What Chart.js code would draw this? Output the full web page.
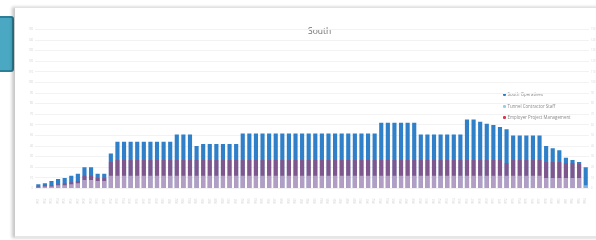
<!DOCTYPE html>
<html>
<head>
<meta charset="utf-8">
<script src="https://cdn.jsdelivr.net/npm/chart.js@4/dist/chart.umd.min.js"></script>
<style>
    html, body { margin: 0; padding: 0; background: #ffffff; }
    body { width: 596px; height: 240px; position: relative; overflow: hidden; font-family: "Open Sans", sans-serif; }
    .tab { position: absolute; left: -4px; top: 16px; width: 14px; height: 52px; background: #4aa8c3; border: 2px solid #2d7f97; border-radius: 3px; }
    .card { position: absolute; left: 15px; top: 7px; width: 590px; height: 228px; background: #fff; border-top: 1px solid #e2e2e2; border-bottom: 2px solid #e6e6e6; box-shadow: -3px 0 3px rgba(0,0,0,0.22); }
    .title { position: absolute; left: 308px; top: 25px; font-size: 8.5px; color: #6d6d6d; filter: blur(0.3px); }
    .legend { position: absolute; left: 503px; top: 89px; font-size: 4.4px; color: #8a8a8a; line-height: 11.5px; filter: blur(0.3px); }
    .legend span.dot { display: inline-block; width: 3px; height: 3px; margin-right: 1.5px; vertical-align: middle; border-radius: 1px; }
    canvas { position: absolute; left: 0; top: 0; filter: blur(0.35px); }
</style>
</head>
<body>
<div class="tab"></div>
<div class="card"></div>
<div class="title">South</div>
<div class="legend" id="legend"></div>
<canvas id="chartSouth" width="596" height="240"></canvas>
<script>
const categories = [
    "W01","W02","W03","W04","W05","W06","W07","W08","W09","W10","W11","W12",
    "W13","W14","W15","W16","W17","W18","W19","W20","W21","W22","W23","W24",
    "W25","W26","W27","W28","W29","W30","W31","W32","W33","W34","W35","W36",
    "W37","W38","W39","W40","W41","W42","W43","W44","W45","W46","W47","W48",
    "W49","W50","W51","W52","W53","W54","W55","W56","W57","W58","W59","W60",
    "W61","W62","W63","W64","W65","W66","W67","W68","W69","W70","W71","W72",
    "W73","W74","W75","W76","W77","W78","W79","W80","W81","W82","W83","W84"
];

const southOperatives = [
    4, 5, 7, 9, 10, 12, 14, 20, 20, 14, 14, 33,
    44, 44, 44, 44, 44, 44, 44, 44, 44, 51, 51, 51,
    40, 42, 42, 42, 42, 42, 42, 52, 52, 52, 52, 52,
    52, 52, 52, 52, 52, 52, 52, 52, 52, 52, 52, 52,
    52, 52, 52, 52, 62, 62, 62, 62, 62, 62, 51, 51,
    51, 51, 51, 51, 51, 65, 65, 63, 61, 60, 58, 56,
    50, 50, 50, 50, 50, 40, 38, 36, 29, 27, 25, 20
];

const tunnelContractorStaff = [
    1, 2, 2, 3, 3, 4, 5, 8, 8, 7, 7, 12,
    12, 12, 12, 12, 12, 12, 12, 12, 12, 12, 12, 12,
    12, 12, 12, 12, 12, 12, 12, 12, 12, 12, 12, 12,
    12, 12, 12, 12, 12, 12, 12, 12, 12, 12, 12, 12,
    12, 12, 12, 12, 12, 12, 12, 12, 12, 12, 12, 12,
    12, 12, 12, 12, 12, 12, 12, 12, 12, 12, 12, 12,
    12, 12, 12, 12, 12, 10, 10, 10, 10, 10, 10, 3
];

const employerProjectManagement = [
    2, 3, 3, 4, 5, 6, 7, 12, 12, 10, 10, 25,
    27, 27, 27, 27, 27, 27, 27, 27, 27, 27, 27, 27,
    27, 27, 27, 27, 27, 27, 27, 27, 27, 27, 27, 27,
    27, 27, 27, 27, 27, 27, 27, 27, 27, 27, 27, 27,
    27, 27, 27, 27, 27, 27, 27, 27, 27, 27, 27, 27,
    27, 27, 27, 27, 27, 27, 27, 27, 27, 27, 27, 24,
    27, 27, 27, 27, 27, 25, 25, 25, 24, 24, 23, 0
];

const yTicks = [0, 10, 20, 30, 40, 50, 60, 70, 80, 90, 100, 110, 120, 130, 140, 150];

const legendColors = ["#2f80c9", "#8fd0f2", "#d9364f"];

const tickFont = { size: 2.6, family: "Open Sans" };

const chart = new Chart(document.getElementById("chartSouth"), {
    type: "bar",
    data: {
        labels: categories,
        datasets: [
            { label: "South Operatives", data: southOperatives, backgroundColor: "#2f80c9", order: 3 },
            { label: "Tunnel Contractor Staff", data: tunnelContractorStaff, backgroundColor: "rgba(230,228,250,0.5)", order: 1 },
            { label: "Employer Project Management", data: employerProjectManagement, backgroundColor: "rgba(205,45,85,0.5)", order: 2 }
        ]
    },
    options: {
        responsive: false,
        animation: false,
        layout: { padding: { top: 29.5, left: 0, right: 0, bottom: 0 } },
        datasets: { bar: { grouped: false, categoryPercentage: 0.9, barPercentage: 0.7 } },
        plugins: { legend: { display: false }, title: { display: false }, tooltip: { enabled: false } },
        scales: {
            x: {
                grid: { display: false },
                border: { display: false },
                ticks: { font: tickFont, color: "#d2d2d2", autoSkip: false, minRotation: 90, maxRotation: 90, padding: 2 },
                afterFit: function (s) { s.height = 51.5; }
            },
            y: {
                min: 0, max: 150,
                afterBuildTicks: function (s) { s.ticks = yTicks.map(v => ({ value: v })); },
                grid: { color: "#f2f2f2", drawTicks: false },
                border: { display: false },
                ticks: { font: tickFont, color: "#cccccc", padding: 2 },
                afterFit: function (s) { s.width = 35; }
            },
            y2: {
                position: "right",
                min: 0, max: 150,
                afterBuildTicks: function (s) { s.ticks = yTicks.map(v => ({ value: v })); },
                grid: { display: false, drawTicks: false },
                border: { display: false },
                ticks: { font: tickFont, color: "#d6d6d6", padding: 2 },
                afterFit: function (s) { s.width = 7; }
            }
        }
    }
});

// legend built from the datasets
const legendBox = document.getElementById("legend");
chart.data.datasets.forEach(function (ds, i) {
    const row = document.createElement("div");
    row.innerHTML = '<span class="dot" style="background:' + legendColors[i] + '"></span>' + ds.label;
    legendBox.appendChild(row);
});
</script>
</body>
</html>
